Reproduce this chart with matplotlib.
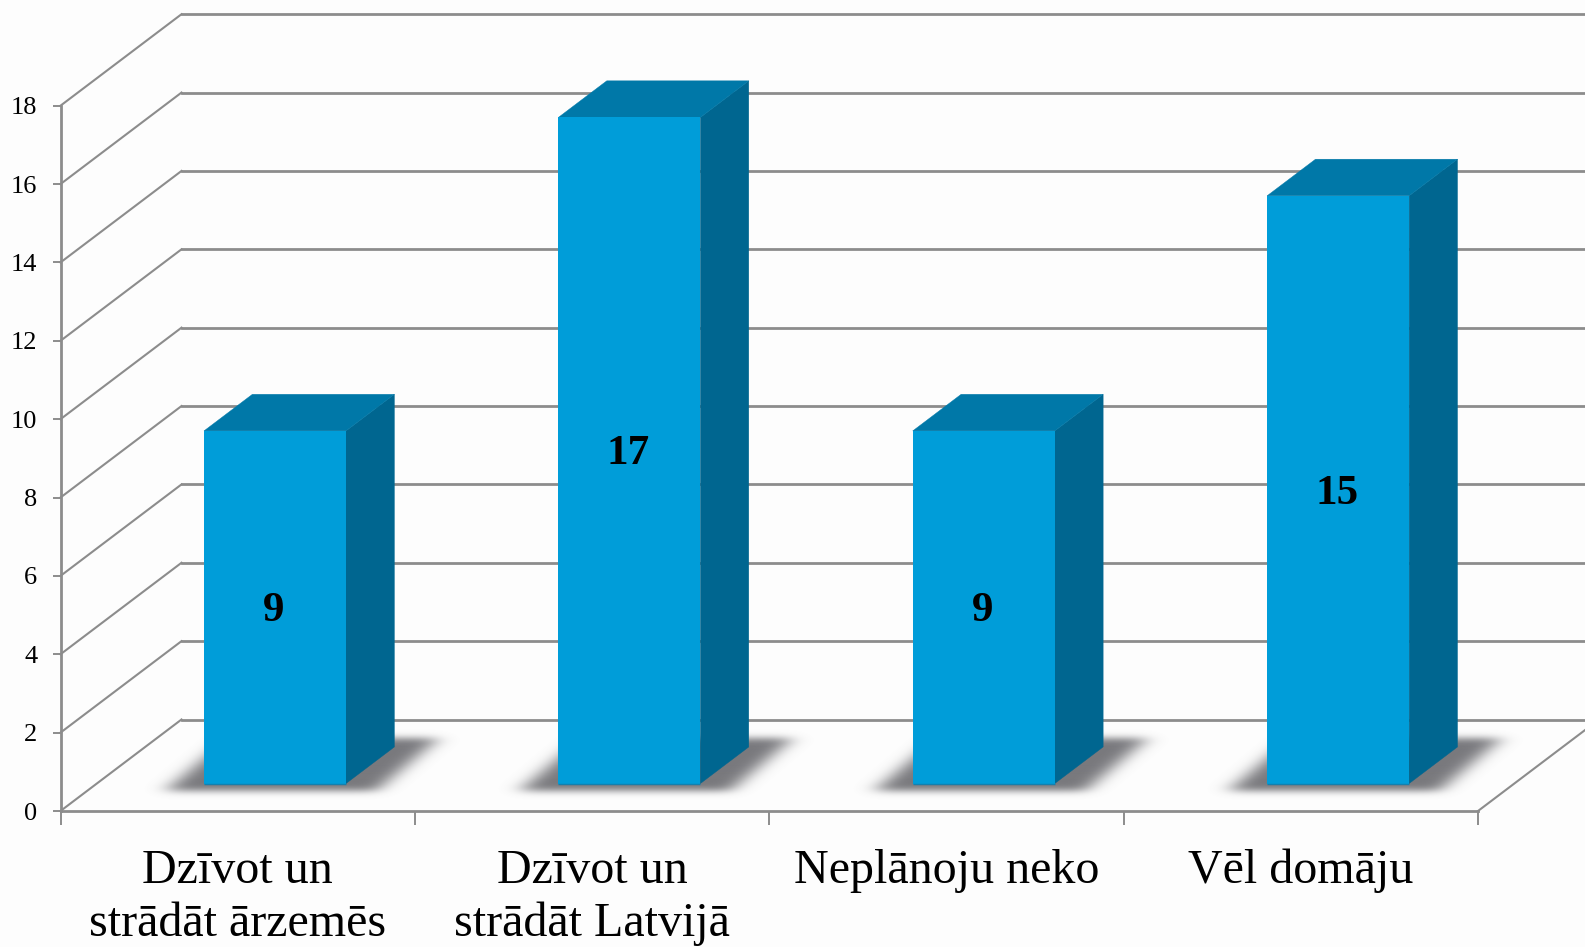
import numpy as np
import matplotlib
matplotlib.use("Agg")
import matplotlib.pyplot as plt
from matplotlib.patches import Polygon

plt.rcParams['font.family'] = ['Liberation Serif', 'DejaVu Serif']

# chart data
categories = ["Dzīvot un\nstrādāt ārzemēs", "Dzīvot un\nstrādāt Latvijā", "Neplānoju neko", "Vēl domāju"]
values = [9, 17, 9, 15]
y_ticks = list(range(0, 19, 2))

W, H = 1585, 947
LEFT, RIGHT, BOTTOM, TOP = 60.5, 1478, 811, 105.7
BG = "#fdfdfd"
GRID = "#8c8c8c"
FRONT = "#009dd9"
SIDE = "#006690"
ROOF = "#0078a8"

fig = plt.figure(figsize=(W / 100, H / 100), dpi=100, facecolor=BG)
ax = fig.add_axes([LEFT / W, 1 - BOTTOM / H, (RIGHT - LEFT) / W, (BOTTOM - TOP) / H])
ax.set_facecolor("none")

# size of one data unit in pixels, used to express the 3d depth in data units
px_x = (RIGHT - LEFT) / len(categories)
px_y = (BOTTOM - TOP) / 18
wall_dx = 121 / px_x
wall_dy = 91.5 / px_y
bar_w = 142 / px_x
z_front, z_back = 0.3, 0.7


# blurred parallelogram used as the floor shadow of a bar, sizes in pixels
def shadow_rgba():
    u, v = np.meshgrid(np.arange(-80, 270), np.arange(-30, 70))
    skew = 1.2 * (v + 7)
    mask = ((v >= -7) & (v <= 44) & (u >= -38 + skew) & (u <= 172 + skew)).astype(float)
    kern_x = np.exp(-0.5 * (np.arange(-30, 31) / 10.0) ** 2)
    kern_y = np.exp(-0.5 * (np.arange(-12, 13) / 3.5) ** 2)
    mask = np.apply_along_axis(np.convolve, 0, mask, kern_y / kern_y.sum(), mode="same")
    mask = np.apply_along_axis(np.convolve, 1, mask, kern_x / kern_x.sum(), mode="same")
    rgba = np.zeros(mask.shape + (4,))
    rgba[..., :3] = np.array([0x78, 0x78, 0x7c]) / 255
    rgba[..., 3] = mask
    return rgba


shadow = shadow_rgba()

# back wall gridlines with the diagonal side wall
for v in y_ticks:
    ax.plot([0, wall_dx], [v, v + wall_dy], color=GRID, lw=1.5, clip_on=False, zorder=1)
    ax.plot([wall_dx, len(categories) + wall_dx], [v + wall_dy, v + wall_dy],
            color=GRID, lw=2.0, clip_on=False, zorder=1)
ax.plot([len(categories), len(categories) + wall_dx], [0, wall_dy],
        color=GRID, lw=1.5, clip_on=False, zorder=1)

for i, val in enumerate(values):
    x0 = i + 0.5 + z_front * wall_dx - bar_w / 2 + 1 / px_x
    x1 = x0 + bar_w
    y0 = z_front * wall_dy
    y1 = y0 + val
    dx = (z_back - z_front) * wall_dx
    dy = (z_back - z_front) * wall_dy

    ax.imshow(shadow, origin="lower", aspect="auto", interpolation="bilinear", clip_on=False, zorder=2,
              extent=[x0 - 80 / px_x, x0 + 270 / px_x, y0 - 30 / px_y, y0 + 70 / px_y])

    ax.add_patch(Polygon([(x1, y0), (x1 + dx, y0 + dy), (x1 + dx, y1 + dy), (x1, y1)],
                         closed=True, facecolor=SIDE, edgecolor=SIDE, lw=0.3, clip_on=False, zorder=3))
    ax.add_patch(Polygon([(x0, y1), (x1, y1), (x1 + dx, y1 + dy), (x0 + dx, y1 + dy)],
                         closed=True, facecolor=ROOF, edgecolor=ROOF, lw=0.3, clip_on=False, zorder=3))
    ax.bar(x0, val, width=bar_w, bottom=y0, align="edge", color=FRONT, zorder=4)
    ax.plot([x0, x1], [y0, y0], color="#1480ae", lw=1.0, zorder=5, solid_capstyle="butt")
    ax.text(x0 + bar_w / 2 - 1 / px_x, y0 + val / 2 - 4 / px_y, str(val), ha="center", va="center",
            fontsize=31, fontweight="bold", color="black", zorder=6)

ax.set_xlim(0, len(categories))
ax.set_ylim(0, 18)

# axes and ticks
for side in ("top", "right"):
    ax.spines[side].set_visible(False)
for side in ("left", "bottom"):
    ax.spines[side].set_color(GRID)
    ax.spines[side].set_linewidth(2.0)
    ax.spines[side].set_zorder(7)

ax.set_yticks(y_ticks)
ax.set_yticklabels([str(v) for v in y_ticks], fontsize=19)
ax.tick_params(axis="y", length=5.8, width=1.4, color=GRID, pad=11, labelcolor="black")

ax.set_xticks(range(len(categories) + 1))
ax.set_xticklabels([""] * (len(categories) + 1))
ax.tick_params(axis="x", which="major", length=10, width=1.4, color=GRID)

ax.set_xticks(np.arange(len(categories)) + 0.5, minor=True)
ax.set_xticklabels(categories, minor=True, fontsize=34.6, linespacing=1.26, va="top")
ax.tick_params(axis="x", which="minor", length=0, pad=27.2)

fig.savefig("out.png", dpi=100, facecolor=fig.get_facecolor())
